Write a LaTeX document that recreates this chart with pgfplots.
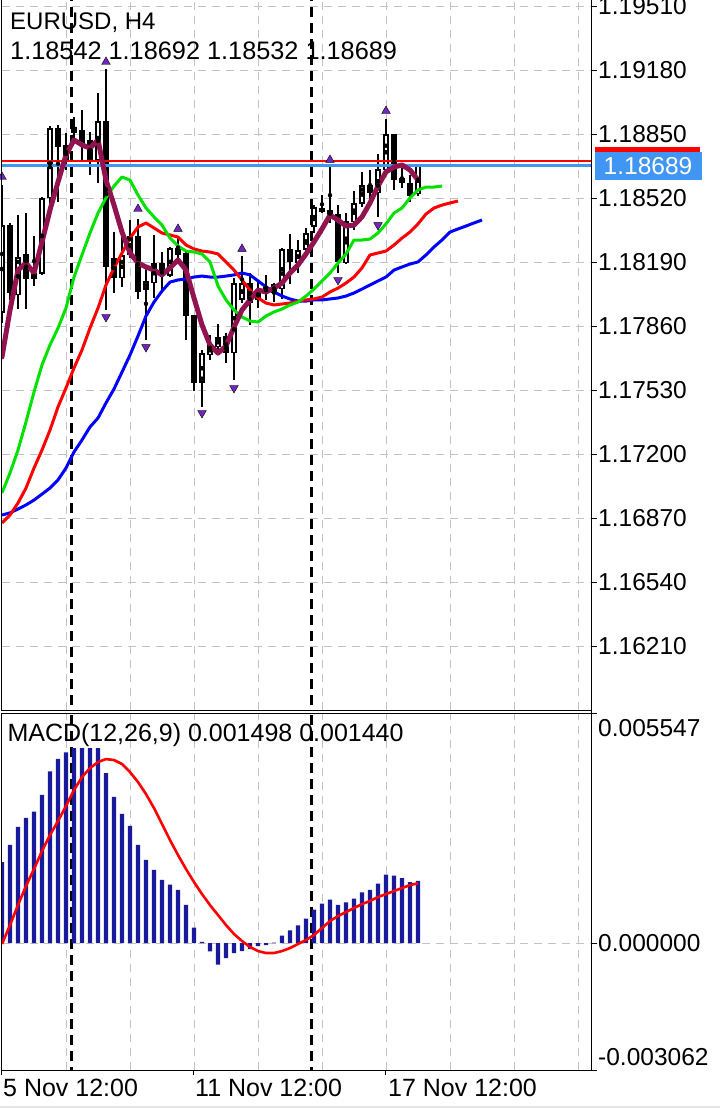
\documentclass[border=0pt]{standalone}
\usepackage{pgfplots}
\pgfplotsset{compat=1.18}
\usepackage{pgfplotstable}
\usepackage{fontspec}
\setmainfont{Liberation Sans}

\definecolor{lips}{RGB}{0,225,0}
\definecolor{teeth}{RGB}{255,0,0}
\definecolor{jaw}{RGB}{0,0,255}
\definecolor{maline}{RGB}{145,20,80}
\definecolor{fractal}{RGB}{112,40,190}
\definecolor{histo}{RGB}{25,25,155}
\definecolor{bidblue}{RGB}{66,150,243}
\definecolor{gridgray}{RGB}{195,195,195}

\newcommand\lbl{\fontsize{24.5}{28}\selectfont}

\pgfplotsset{
  mtpanel/.style={
    scale only axis, width=590pt,
    xmin=-0.0375, xmax=73.7125,
    axis line style={draw=none},
    scaled y ticks=false, scaled x ticks=false,
    xtick={8,16,...,72}, xticklabels={},
    xtick style={draw=none},
    xmajorgrids, ymajorgrids,
    major grid style={gridgray, line width=1pt, dash pattern=on 8pt off 6pt},
    ytick pos=right, yticklabels={},
    tick align=outside, major tick length=5pt,
    ytick style={black, line width=1pt},
  },
}

\begin{document}

\pgfplotstableread{
k o h l c
0 1.17929 1.18589 1.17877 1.18382
1 1.18382 1.18393 1.17996 1.18032
2 1.18021 1.18434 1.17949 1.18217
3 1.18233 1.18444 1.17949 1.18104
4 1.18104 1.18326 1.18068 1.18135
5 1.18130 1.18527 1.18125 1.18522
6 1.18522 1.18893 1.18470 1.18883
7 1.18883 1.18898 1.18501 1.18785
8 1.18795 1.18857 1.18666 1.18707
9 1.18888 1.18939 1.18821 1.18857
10 1.18872 1.18975 1.18718 1.18795
11 1.18821 1.18862 1.18640 1.18718
12 1.18718 1.19063 1.18599 1.18919
13 1.18919 1.19187 1.17944 1.18166
14 1.18212 1.18346 1.18032 1.18109
15 1.18109 1.18321 1.18063 1.18228
16 1.18228 1.18408 1.18212 1.18326
17 1.18326 1.18413 1.18001 1.18037
18 1.18047 1.18166 1.17789 1.18094
19 1.18083 1.18331 1.18006 1.18186
20 1.18186 1.18243 1.18032 1.18135
21 1.18119 1.18269 1.18114 1.18264
22 1.18264 1.18321 1.18212 1.18228
23 1.18238 1.18253 1.17789 1.17913
24 1.17918 1.17918 1.17526 1.17568
25 1.17568 1.17738 1.17444 1.17722
26 1.17712 1.17815 1.17686 1.17764
27 1.17753 1.17872 1.17712 1.17805
28 1.17810 1.17826 1.17671 1.17722
29 1.17722 1.18109 1.17583 1.18083
30 1.17996 1.18223 1.17980 1.18083
31 1.18083 1.18135 1.17867 1.17980
32 1.17996 1.18099 1.17954 1.18047
33 1.18032 1.18125 1.17996 1.18063
34 1.18032 1.18083 1.17985 1.18078
35 1.18052 1.18264 1.18001 1.18259
36 1.18259 1.18336 1.18078 1.18192
37 1.18186 1.18305 1.18135 1.18253
38 1.18253 1.18367 1.18217 1.18341
39 1.18372 1.18486 1.18341 1.18475
40 1.18470 1.18537 1.18444 1.18449
41 1.18460 1.18681 1.18393 1.18424
42 1.18439 1.18486 1.18135 1.18192
43 1.18186 1.18444 1.18181 1.18403
44 1.18398 1.18558 1.18357 1.18496
45 1.18491 1.18656 1.18475 1.18589
46 1.18589 1.18666 1.18511 1.18547
47 1.18547 1.18748 1.18424 1.18671
48 1.18666 1.18929 1.18656 1.18852
49 1.18852 1.18852 1.18563 1.18614
50 1.18625 1.18676 1.18573 1.18599
51 1.18599 1.18640 1.18501 1.18532
52 1.18542 1.18692 1.18532 1.18689
}\candles

\pgfplotstableread{
k v
0 1.17001
1 1.17104
2 1.17222
3 1.17367
4 1.17521
5 1.17661
6 1.17764
7 1.17851
8 1.17954
9 1.18114
10 1.18228
11 1.18341
12 1.18444
13 1.18522
14 1.18583
15 1.18630
16 1.18614
17 1.18537
18 1.18470
19 1.18424
20 1.18382
21 1.18315
22 1.18274
23 1.18248
24 1.18243
25 1.18233
26 1.18192
27 1.18068
28 1.17996
29 1.17944
30 1.17908
31 1.17887
32 1.17882
33 1.17913
34 1.17934
35 1.17949
36 1.17970
37 1.17985
38 1.18016
39 1.18052
40 1.18094
41 1.18135
42 1.18186
43 1.18233
44 1.18305
45 1.18305
46 1.18310
47 1.18341
48 1.18388
49 1.18444
50 1.18470
51 1.18522
52 1.18563
53 1.18578
54 1.18578
55 1.18583
}\lipsdata

\pgfplotstableread{
k v
0 1.16846
1 1.16887
2 1.16949
3 1.17026
4 1.17129
5 1.17222
6 1.17325
7 1.17444
8 1.17542
9 1.17645
10 1.17738
11 1.17851
12 1.17954
13 1.18073
14 1.18161
15 1.18238
16 1.18315
17 1.18372
18 1.18393
19 1.18367
20 1.18341
21 1.18331
22 1.18320
23 1.18279
24 1.18259
25 1.18248
26 1.18243
27 1.18233
28 1.18192
29 1.18150
30 1.18099
31 1.18047
32 1.18006
33 1.17980
34 1.17970
35 1.17975
36 1.17980
37 1.17990
38 1.17996
39 1.18001
40 1.18011
41 1.18037
42 1.18057
43 1.18083
44 1.18114
45 1.18161
46 1.18228
47 1.18238
48 1.18248
49 1.18279
50 1.18315
51 1.18346
52 1.18388
53 1.18439
54 1.18470
55 1.18485
56 1.18496
57 1.18506
}\teethdata

\pgfplotstableread{
k v
0 1.16887
1 1.16898
2 1.16918
3 1.16939
4 1.16964
5 1.16995
6 1.17026
7 1.17068
8 1.17129
9 1.17212
10 1.17274
11 1.17341
12 1.17387
13 1.17465
14 1.17537
15 1.17624
16 1.17712
17 1.17810
18 1.17913
19 1.17985
20 1.18042
21 1.18088
22 1.18099
23 1.18104
24 1.18114
25 1.18119
26 1.18114
27 1.18114
28 1.18119
29 1.18125
30 1.18135
31 1.18125
32 1.18094
33 1.18063
34 1.18037
35 1.18016
36 1.18001
37 1.17990
38 1.17990
39 1.17996
40 1.17996
41 1.18001
42 1.18006
43 1.18016
44 1.18032
45 1.18052
46 1.18073
47 1.18094
48 1.18114
49 1.18150
50 1.18166
51 1.18181
52 1.18192
53 1.18228
54 1.18269
55 1.18305
56 1.18346
57 1.18362
58 1.18377
59 1.18393
60 1.18408
}\jawdata

\pgfplotstableread{
k v
0 1.17702
1 1.17944
2 1.18150
3 1.18186
4 1.18135
5 1.18295
6 1.18460
7 1.18604
8 1.18743
9 1.18821
10 1.18795
11 1.18779
12 1.18821
13 1.18614
14 1.18485
15 1.18346
16 1.18238
17 1.18186
18 1.18166
19 1.18150
20 1.18125
21 1.18161
22 1.18202
23 1.18150
24 1.18006
25 1.17867
26 1.17764
27 1.17722
28 1.17758
29 1.17856
30 1.17944
31 1.17996
32 1.18047
33 1.18037
34 1.18057
35 1.18083
36 1.18135
37 1.18176
38 1.18233
39 1.18295
40 1.18362
41 1.18434
42 1.18408
43 1.18377
44 1.18382
45 1.18424
46 1.18496
47 1.18583
48 1.18656
49 1.18681
50 1.18692
51 1.18666
52 1.18614
}\madata

\pgfplotstableread{
k v
0 1.18630
13 1.19223
17 1.18465
22 1.18362
30 1.18259
41 1.18718
48 1.18970
}\fractup

\pgfplotstableread{
k v
13 1.17908
18 1.17753
25 1.17413
29 1.17542
42 1.18099
47 1.18382
}\fractdown

\pgfplotstableread{
k m s
0 0.001953 -0.000024
1 0.002370 0.000434
2 0.002804 0.000916
3 0.003021 0.001374
4 0.003166 0.001784
5 0.003575 0.002218
6 0.004137 0.002604
7 0.004443 0.002941
8 0.004595 0.003303
9 0.004701 0.003689
10 0.004701 0.004002
11 0.004701 0.004219
12 0.004701 0.004364
13 0.004099 0.004436
14 0.003527 0.004412
15 0.003117 0.004316
16 0.002828 0.004123
17 0.002370 0.003882
18 0.002008 0.003592
19 0.001767 0.003255
20 0.001526 0.002869
21 0.001406 0.002483
22 0.001285 0.002122
23 0.000923 0.001784
24 0.000369 0.001471
25 0.000031 0.001181
26 -0.000203 0.000916
27 -0.000523 0.000675
28 -0.000362 0.000434
29 -0.000241 0.000217
30 -0.000193 0.000048
31 -0.000145 -0.000096
32 -0.000072 -0.000193
33 -0.000048 -0.000241
34 0.000010 -0.000241
35 0.000176 -0.000193
36 0.000304 -0.000121
37 0.000424 -0.000024
38 0.000586 0.000072
39 0.000803 0.000193
40 0.000948 0.000362
41 0.001044 0.000530
42 0.000923 0.000651
43 0.000979 0.000747
44 0.001068 0.000844
45 0.001220 0.000940
46 0.001285 0.001013
47 0.001430 0.001109
48 0.001647 0.001181
49 0.001623 0.001254
50 0.001567 0.001326
51 0.001471 0.001398
52 0.001498 0.001440
}\macd

\begin{tikzpicture}
\useasboundingbox (0pt,0pt) rectangle (720pt,-1108pt);
\fill[white] (0pt,0pt) rectangle (720pt,-1108pt);

% ---------------- price panel ----------------
\begin{axis}[mtpanel,
  at={(1.7pt,0pt)}, anchor=north west,
  height=710pt,
  ymin=1.158816, ymax=1.195425,
  ytick={1.16210,1.16540,1.16870,1.17200,1.17530,1.17860,1.18190,1.18520,1.18850,1.19180,1.19510},
]
% period separators
\addplot[forget plot, black, line width=2.5pt, dash pattern=on 10pt off 6pt] coordinates {(8.71,1.15) (8.71,1.20)};
\addplot[forget plot, black, line width=2.5pt, dash pattern=on 10pt off 6pt] coordinates {(38.71,1.15) (38.71,1.20)};
% wicks
\addplot[forget plot, only marks, mark=none,
  error bars/.cd, y dir=both, y explicit, error mark=none,
  error bar style={black, solid, line width=1.9pt}]
  table[x=k, y expr={(\thisrow{h}+\thisrow{l})/2},
        y error plus expr={(\thisrow{h}-\thisrow{l})/2},
        y error minus expr={(\thisrow{h}-\thisrow{l})/2}] {\candles};
% bodies
\addplot[forget plot, only marks, mark=none,
  error bars/.cd, y dir=both, y explicit, error mark=none,
  error bar style={black, solid, line width=6pt}]
  table[x=k, y expr={(\thisrow{o}+\thisrow{c})/2},
        y error plus expr={max(abs(\thisrow{c}-\thisrow{o})/2,0.00005)},
        y error minus expr={max(abs(\thisrow{c}-\thisrow{o})/2,0.00005)}] {\candles};
% hollow interior of rising candles
\addplot[forget plot, only marks, mark=none,
  error bars/.cd, y dir=both, y explicit, error mark=none,
  error bar style={white, solid, line width=2.6pt}]
  table[x=k, y expr={(\thisrow{o}+\thisrow{c})/2},
        y error plus expr={(\thisrow{c}>\thisrow{o})*max(abs(\thisrow{c}-\thisrow{o})/2-0.000085,0)},
        y error minus expr={(\thisrow{c}>\thisrow{o})*max(abs(\thisrow{c}-\thisrow{o})/2-0.000085,0)}] {\candles};
% bid / ask lines
\addplot[forget plot, teeth, line width=2.2pt] coordinates {(-1,1.18714) (80,1.18714)};
\addplot[forget plot, bidblue, line width=2.2pt] coordinates {(-1,1.18689) (80,1.18689)};
% alligator
\addplot[forget plot, jaw, line width=3pt, mark=none, line join=round] table[x=k,y=v] {\jawdata};
\addplot[forget plot, teeth, line width=3pt, mark=none, line join=round] table[x=k,y=v] {\teethdata};
\addplot[forget plot, lips, line width=3pt, mark=none, line join=round] table[x=k,y=v] {\lipsdata};
% moving average
\addplot[forget plot, maline, line width=5pt, mark=none, line join=round, line cap=round] table[x=k,y=v] {\madata};
% fractals
\addplot[forget plot, only marks, mark=triangle*, mark size=5pt, mark options={fill=fractal, draw=none}] table[x=k,y=v] {\fractup};
\addplot[forget plot, only marks, mark=triangle*, mark size=5pt, mark options={fill=fractal, draw=none, rotate=180}] table[x=k,y=v] {\fractdown};
\end{axis}

% ---------------- MACD panel ----------------
\begin{axis}[mtpanel,
  at={(1.7pt,-713pt)}, anchor=north west,
  height=357pt,
  ymin=-0.003062, ymax=0.005547,
  ytick={-0.003062,0,0.005547},
]
\addplot[forget plot, black, line width=2.5pt, dash pattern=on 10pt off 6pt] coordinates {(8.71,-0.004) (8.71,0.006)};
\addplot[forget plot, black, line width=2.5pt, dash pattern=on 10pt off 6pt] coordinates {(38.71,-0.004) (38.71,0.006)};
\addplot[forget plot, ybar, bar width=4.2pt, fill=histo, draw=none] table[x=k,y=m] {\macd};
\addplot[forget plot, teeth, line width=2.6pt, mark=none, line join=round] table[x=k,y=s] {\macd};
\end{axis}

% ---------------- frames ----------------
\draw[black, line width=1pt] (1.7pt,0pt) -- (1.7pt,-710pt) -- (591.7pt,-710pt);
\draw[black, line width=1pt] (1.7pt,-713pt) -- (591.7pt,-713pt);
\draw[black, line width=1pt] (1.7pt,-713pt) -- (1.7pt,-1070pt) -- (597pt,-1070pt);
\draw[black, line width=1pt] (591.7pt,0pt) -- (591.7pt,-1070pt);
\foreach \tx in {1.7,193.7,385.7}
  \draw[black, line width=1pt] (\tx pt,-1070pt) -- (\tx pt,-1074.5pt);
\draw[gray!20, line width=2pt] (0pt,-1107pt) -- (720pt,-1107pt);

% price scale labels
\foreach \v/\yy in {1.19510/6.3,1.19180/70.3,1.18850/134.3,1.18520/198.3,1.18190/262.3,1.17860/326.3,1.17530/390.3,1.17200/454.3,1.16870/518.3,1.16540/582.3,1.16210/646.3}
  \node[anchor=west, inner sep=0pt, font=\lbl] at (598pt,{-\yy pt}) {\v};

% current price labels
\fill[teeth] (595pt,-147pt) rectangle (700pt,-174.7pt);
\fill[bidblue] (595pt,-152pt) rectangle (702pt,-180pt);
\node[white, inner sep=0pt, font=\lbl] at (648pt,-166pt) {1.18689};

% MACD scale labels
\node[anchor=west, inner sep=0pt, font=\lbl] at (598pt,-728pt) {0.005547};
\node[anchor=west, inner sep=0pt, font=\lbl] at (598pt,-943.3pt) {0.000000};
\node[anchor=west, inner sep=0pt, font=\lbl] at (598pt,-1057pt) {-0.003062};

% headers
\node[anchor=base west, inner sep=0pt, font=\fontsize{24}{28}\selectfont] at (10pt,-29.3pt) {EURUSD, H4};
\node[anchor=base west, inner sep=0pt, font=\fontsize{25.3}{30}\selectfont] at (10pt,-59.3pt) {1.18542 1.18692 1.18532 1.18689};
\node[anchor=base west, inner sep=0pt, font=\fontsize{25}{30}\selectfont] at (7.3pt,-741.7pt) {MACD(12,26,9) 0.001498 0.001440};

% time labels
\node[anchor=base west, inner sep=0pt, font=\fontsize{25}{30}\selectfont] at (3pt,-1096.7pt) {5 Nov 12:00};
\node[anchor=base west, inner sep=0pt, font=\fontsize{25}{30}\selectfont] at (195pt,-1096.7pt) {11 Nov 12:00};
\node[anchor=base west, inner sep=0pt, font=\fontsize{25}{30}\selectfont] at (388pt,-1096.7pt) {17 Nov 12:00};
\end{tikzpicture}
\end{document}
